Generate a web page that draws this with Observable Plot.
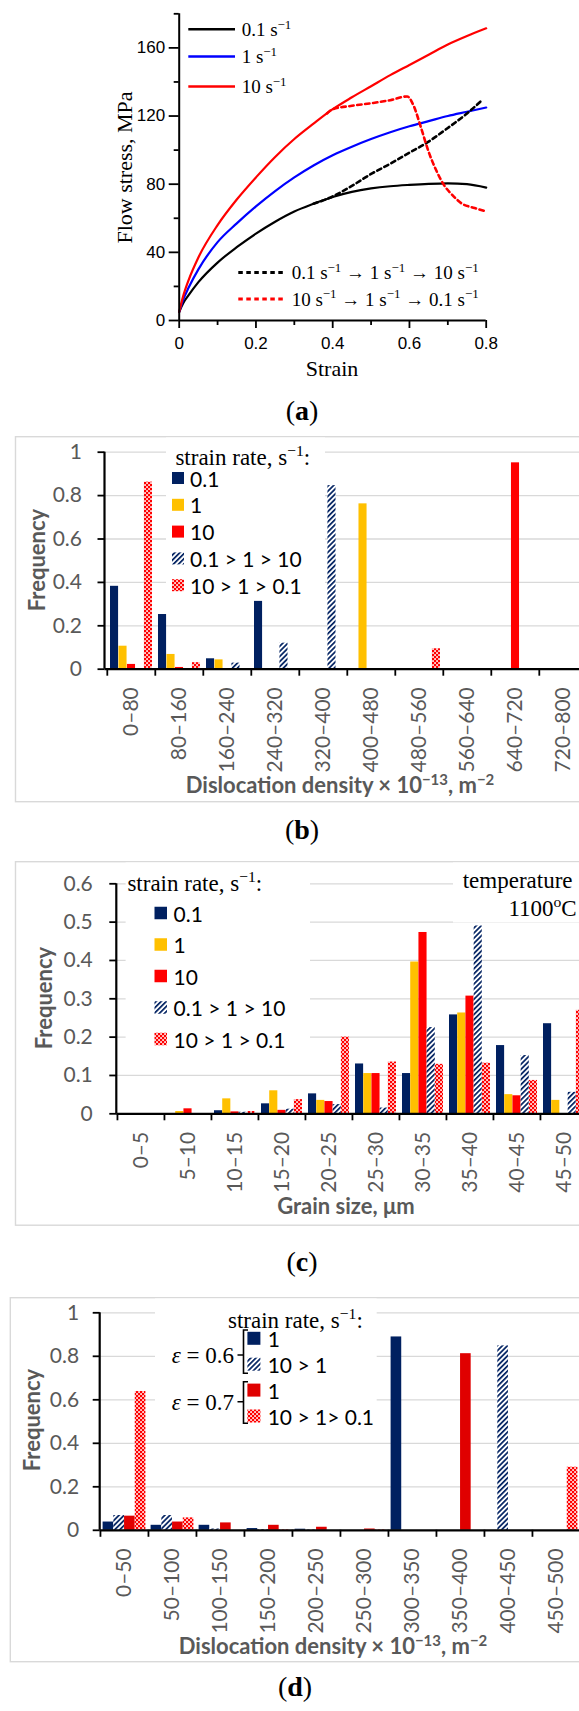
<!DOCTYPE html>
<html>
<head>
<meta charset="utf-8">
<script src="https://cdn.jsdelivr.net/npm/d3@7"></script>
<script src="https://cdn.jsdelivr.net/npm/@observablehq/plot@0.6"></script>
<style>
html, body { margin: 0; padding: 0; background: #fff; overflow: hidden; }
#root { position: relative; width: 579px; height: 1711px; overflow: hidden; background: #fff; }
.cap { position: absolute; font-family: "Liberation Serif", serif; font-size: 28px; line-height: 1; transform: translate(-50%, -50%); white-space: nowrap; color: #000; }
</style>
</head>
<body>
<svg width="0" height="0" style="position:absolute">
  <defs>
    <pattern id="hatchNavy" patternUnits="userSpaceOnUse" width="3.6" height="3.6" patternTransform="rotate(45)">
      <rect width="3.6" height="3.6" fill="#ffffff"/>
      <rect width="1.7" height="3.6" fill="#002060"/>
    </pattern>
    <pattern id="checkRed" patternUnits="userSpaceOnUse" width="4" height="4">
      <rect width="4" height="4" fill="#ff0000"/>
      <rect x="0.2" y="0.2" width="1.7" height="1.7" fill="#ffffff"/>
      <rect x="2.2" y="2.2" width="1.7" height="1.7" fill="#ffffff"/>
    </pattern>
  </defs>
</svg>
<div id="root"></div>
<script>
// ------------------------------------------------------------------ data
// (a) flow curves
const strainGrid   = [0, 0.01, 0.025, 0.05, 0.1, 0.15, 0.2, 0.25, 0.3, 0.35, 0.4, 0.45, 0.5, 0.55, 0.6, 0.65, 0.7, 0.75, 0.8];
const stressRate01 = [5, 10, 15, 22.5, 34, 43, 51, 58, 64, 68.5, 72.5, 75.5, 77.5, 78.8, 79.6, 80.2, 80.5, 80, 78];
const stressRate1  = [5, 12, 19.5, 30, 46, 57, 67, 76, 84, 91, 97, 102, 106.5, 110.5, 114, 117, 120, 122.5, 125];
const stressRate10 = [5, 14, 24, 37, 56, 71, 84, 96, 106.5, 115.5, 124, 131, 137.5, 144, 150, 156, 162, 167, 171.5];
const strainUp     = [0.35, 0.4, 0.45, 0.5, 0.55, 0.6, 0.65, 0.7, 0.75, 0.79];
const stressUp     = [68.5, 72.8, 79, 86, 92, 98.5, 105, 113, 121.5, 129.5];
const strainDown   = [0.385, 0.4, 0.45, 0.5, 0.55, 0.594, 0.611, 0.629, 0.65, 0.67, 0.69, 0.712, 0.736, 0.77, 0.8];
const stressDown   = [121.5, 124, 126, 127.5, 129.3, 131.5, 126, 114, 99, 88, 79.5, 73.6, 68.7, 66, 64];

// (b) dislocation density distribution
const densityBinsB = ["0–80", "80–160", "160–240", "240–320", "320–400", "400–480", "480–560", "560–640", "640–720", "720–800"];
const freqB_rate01 = [0.382, 0.252, 0.048, 0.313, 0, 0, 0, 0, 0, 0];
const freqB_rate1  = [0.106, 0.068, 0.043, 0.003, 0, 0.762, 0, 0, 0, 0];
const freqB_rate10 = [0.022, 0.008, 0.003, 0, 0, 0, 0, 0, 0.951, 0];
const freqB_up     = [0, 0, 0.028, 0.12, 0.846, 0, 0, 0, 0, 0];
const freqB_down   = [0.862, 0.03, 0.003, 0, 0, 0, 0.094, 0, 0, 0];

// (c) grain size distribution
const grainBins    = ["0–5", "5–10", "10–15", "15–20", "20–25", "25–30", "30–35", "35–40", "40–45", "45–50"];
const freqC_rate01 = [0, 0, 0.008, 0.026, 0.052, 0.13, 0.105, 0.258, 0.178, 0.235];
const freqC_rate1  = [0, 0.006, 0.039, 0.06, 0.035, 0.105, 0.396, 0.263, 0.05, 0.035];
const freqC_rate10 = [0, 0.013, 0.005, 0.009, 0.032, 0.105, 0.473, 0.307, 0.047, 0];
const freqC_up     = [0, 0, 0.004, 0.012, 0.024, 0.015, 0.225, 0.49, 0.152, 0.056];
const freqC_down   = [0, 0, 0.006, 0.037, 0.2, 0.135, 0.129, 0.132, 0.087, 0.27];

// (d) dislocation density after partial straining
const densityBinsD   = ["0–50", "50–100", "100–150", "150–200", "200–250", "250–300", "300–350", "350–400", "400–450", "450–500"];
const freqD_e06_1    = [0.038, 0.023, 0.023, 0.008, 0.005, 0, 0.889, 0, 0, 0];
const freqD_e06_10_1 = [0.068, 0.068, 0.006, 0.003, 0.002, 0, 0, 0, 0.848, 0];
const freqD_e07_1    = [0.065, 0.038, 0.034, 0.023, 0.014, 0.006, 0, 0.812, 0, 0];
const freqD_e07_down = [0.638, 0.057, 0, 0.002, 0, 0.002, 0, 0, 0, 0.29];

const freqTicks1  = [0, 0.2, 0.4, 0.6, 0.8, 1];
const freqTicks06 = [0, 0.1, 0.2, 0.3, 0.4, 0.5, 0.6];

// ------------------------------------------------------------------ helpers
const W = 579;
const NAVY = "#002060", YELLOW = "#ffc000", RED = "#ff0000", DRED = "#e00000";
const SERIF = "'Liberation Serif', 'Times New Roman', serif";
const SANS = "Lato, 'Open Sans', sans-serif";
const root = document.getElementById("root");

function place(el, top) {
  el.style.position = "absolute";
  el.style.left = "0px";
  el.style.top = top + "px";
  root.appendChild(el);
}
function caption(letter, x, y) {
  const d = document.createElement("div");
  d.className = "cap";
  d.style.left = x + "px";
  d.style.top = y + "px";
  d.innerHTML = "(<b>" + letter + "</b>)";
  root.appendChild(d);
}
// text with superscript parts: parts = [[str, isSup], ...]
function rich(g, x, y, parts, attrs) {
  const fs = attrs["font-size"];
  const t = g.append("text").attr("x", x).attr("y", y).attr("text-anchor", "start");
  for (const k in attrs) t.attr(k, attrs[k]);
  let shifted = false;
  for (const [s, sup] of parts) {
    const ts = t.append("tspan").text(s);
    if (sup && !shifted) { ts.attr("dy", -0.38 * fs).attr("font-size", 0.68 * fs); shifted = true; }
    else if (sup) { ts.attr("font-size", 0.68 * fs); }
    else if (!sup && shifted) { ts.attr("dy", 0.38 * fs); shifted = false; }
  }
  return t;
}
const rows2 = (xs, ys, kx, ky) => xs.map((x, i) => ({[kx]: x, [ky]: ys[i]}));

// ------------------------------------------------------------------ panel (a)
{
  const lineOpts = {x: "strain", y: "stress", curve: "monotone-x"};
  const svg = Plot.plot({
    width: W, height: 400,
    marginLeft: 178.7, marginRight: W - 485.7, marginTop: 13.3, marginBottom: 80,
    style: {fontFamily: "'Liberation Sans', Arial, sans-serif", background: "transparent", overflow: "visible"},
    x: {domain: [0, 0.8], range: [178.7, 485.7]},
    y: {domain: [0, 180], range: [320, 13.3]},
    marks: [
      Plot.line(rows2(strainGrid, stressRate01, "strain", "stress"), {...lineOpts, stroke: "#000", strokeWidth: 2.2}),
      Plot.line(rows2(strainGrid, stressRate1, "strain", "stress"), {...lineOpts, stroke: "#0000ff", strokeWidth: 2.2}),
      Plot.line(rows2(strainGrid, stressRate10, "strain", "stress"), {...lineOpts, stroke: "#ff0000", strokeWidth: 2.2}),
      Plot.line(rows2(strainUp, stressUp, "strain", "stress"), {...lineOpts, stroke: "#000", strokeWidth: 2.6, strokeDasharray: "4.5,3.5"}),
      Plot.line(rows2(strainDown, stressDown, "strain", "stress"), {...lineOpts, stroke: "#ff0000", strokeWidth: 2.6, strokeDasharray: "4.5,3.5"}),
      Plot.ruleX([0], {y1: 0, y2: 180, stroke: "#000", strokeWidth: 2}),
      Plot.ruleY([0], {x1: 0, x2: 0.8, stroke: "#000", strokeWidth: 2}),
      Plot.axisY({ticks: [0, 40, 80, 120, 160], tickSize: 10, tickPadding: 4, fontSize: 17, stroke: "#000", fill: "#000", strokeWidth: 1.8, label: null}),
      Plot.axisY({ticks: [20, 60, 100, 140, 180], tickSize: 5, fill: "none", stroke: "#000", strokeWidth: 1.8, label: null}),
      Plot.axisX({ticks: [0, 0.2, 0.4, 0.6, 0.8], tickSize: 8, tickPadding: 8, fontSize: 17, tickFormat: d => d === 0 ? "0" : d.toFixed(1), stroke: "#000", fill: "#000", strokeWidth: 1.8, label: null}),
      Plot.axisX({ticks: [0.1, 0.3, 0.5, 0.7], tickSize: 5, fill: "none", stroke: "#000", strokeWidth: 1.8, label: null})
    ]
  });
  const g = d3.select(svg).append("g").attr("font-family", SERIF).attr("fill", "#000").attr("text-anchor", "start");
  g.append("text").attr("transform", "translate(124,167.5) rotate(-90)").attr("text-anchor", "middle")
    .attr("dominant-baseline", "central").attr("font-size", 22).text("Flow stress, MPa");
  g.append("text").attr("x", 332).attr("y", 376).attr("text-anchor", "middle").attr("font-size", 22).text("Strain");
  const top = [
    {y: 29.3, color: "#000", parts: [["0.1 s", false], ["−1", true]]},
    {y: 56.5, color: "#0000ff", parts: [["1 s", false], ["−1", true]]},
    {y: 86.5, color: "#ff0000", parts: [["10 s", false], ["−1", true]]}
  ];
  for (const e of top) {
    g.append("line").attr("x1", 188.3).attr("x2", 235).attr("y1", e.y).attr("y2", e.y).attr("stroke", e.color).attr("stroke-width", 2.6);
    rich(g, 241.7, e.y + 6.5, e.parts, {"font-size": 19});
  }
  const bottom = [
    {y: 272.5, color: "#000", parts: [["0.1 s", false], ["−1", true], [" → 1 s", false], ["−1", true], [" → 10 s", false], ["−1", true]]},
    {y: 299, color: "#ff0000", parts: [["10 s", false], ["−1", true], [" → 1 s", false], ["−1", true], [" → 0.1 s", false], ["−1", true]]}
  ];
  for (const e of bottom) {
    g.append("line").attr("x1", 238.3).attr("x2", 283.3).attr("y1", e.y).attr("y2", e.y).attr("stroke", e.color)
      .attr("stroke-width", 2.8).attr("stroke-dasharray", "4.5,3.5");
    rich(g, 291.7, e.y + 6.5, e.parts, {"font-size": 19});
  }
  place(svg, 0);
}
caption("a", 302, 411);

// ------------------------------------------------------------------ bar panels
function barPanel(o) {
  const bw = (o.xRange[1] - o.xRange[0]) / o.cats.length;
  const n = o.series.length;
  const w = (bw - 2 * o.pad) / n;
  const marks = [Plot.ruleY(o.yTicks.filter(v => v > 0), {stroke: "#d9d9d9", strokeWidth: 1.3})];
  o.series.forEach((s, j) => {
    marks.push(Plot.barY(rows2(o.cats, s.values, "bin", "freq"), {
      x: "bin", y: "freq", fill: s.fill,
      insetLeft: o.pad + j * w, insetRight: o.pad + (n - 1 - j) * w
    }));
  });
  marks.push(
    Plot.ruleY([0], {stroke: "#000", strokeWidth: 2.2}),
    Plot.axisY({ticks: o.yTicks, tickSize: 7, tickPadding: o.yPad, tickFormat: d => String(+d.toFixed(1)),
      fontSize: 21, fill: "#595959", stroke: "#000", strokeWidth: 1.8, label: null}),
    Plot.axisX({tickSize: 7, dx: -bw / 2, fill: "none", stroke: "#000", strokeWidth: 1.8, label: null}),
    Plot.axisX({tickSize: 0, tickRotate: -90, tickPadding: 18, fontSize: 21, fill: "#595959", label: null})
  );
  const svg = Plot.plot({
    width: W, height: o.height,
    marginLeft: o.xRange[0], marginRight: 0, marginTop: o.yRange[1], marginBottom: o.height - o.yRange[0],
    style: {fontFamily: SANS, background: "transparent", overflow: "hidden"},
    x: {domain: o.cats, range: o.xRange, padding: 0},
    y: {domain: o.yDomain, range: o.yRange},
    marks
  });
  const s = d3.select(svg);
  s.insert("rect", ":first-child").attr("x", o.frameX).attr("y", 0.7).attr("width", 700).attr("height", o.frameH)
    .attr("fill", "none").attr("stroke", "#d9d9d9").attr("stroke-width", 1.4);
  s.append("line").attr("x1", o.xRange[0]).attr("x2", o.xRange[0]).attr("y1", o.yRange[0]).attr("y2", o.yRange[1])
    .attr("stroke", "#000").attr("stroke-width", 2.2);
  rich(s, o.titleX, o.titleY, o.titleParts, {"font-size": 22, "font-weight": 700, fill: "#595959", "text-anchor": "middle", "font-family": SANS});
  s.append("text").attr("transform", `translate(${o.freqX},${o.freqY}) rotate(-90)`).attr("text-anchor", "middle")
    .attr("dominant-baseline", "central").attr("font-size", 22).attr("font-weight", 700).attr("fill", "#595959")
    .attr("font-family", SANS).text("Frequency");
  const L = o.legend;
  const g = s.append("g").attr("text-anchor", "start");
  g.append("rect").attr("x", L.box[0]).attr("y", L.box[1]).attr("width", L.box[2]).attr("height", L.box[3]).attr("fill", "#fff");
  rich(g, L.titleX, L.titleY, [["strain rate, s", false], ["−1", true], [":", false]], {"font-size": 23, "font-family": SERIF, fill: "#000"});
  L.items.forEach((it, i) => {
    const cy = L.y0 + i * L.dy;
    g.append("rect").attr("x", L.swX).attr("y", cy - L.sw / 2).attr("width", L.sw).attr("height", L.sw).attr("fill", it.fill);
    g.append("text").attr("x", L.textX).attr("y", cy).attr("dominant-baseline", "central").attr("font-size", 21)
      .attr("text-anchor", "start").attr("font-family", SANS).attr("fill", "#000").text(it.label);
  });
  if (o.extra) o.extra(s);
  place(svg, o.top);
}

const densityTitle = [["Dislocation density × 10", false], ["−13", true], [", m", false], ["−2", true]];

// (b)
barPanel({
  top: 436, height: 367, frameX: 15.5, frameH: 365,
  cats: densityBinsB, xRange: [104.5, 588.5], pad: 3,
  yDomain: [0, 1], yRange: [232.7, 15.7], yTicks: freqTicks1, yPad: 16,
  series: [
    {values: freqB_rate01, fill: NAVY}, {values: freqB_rate1, fill: YELLOW}, {values: freqB_rate10, fill: RED},
    {values: freqB_up, fill: "url(#hatchNavy)"}, {values: freqB_down, fill: "url(#checkRed)"}
  ],
  titleX: 340, titleY: 357, titleParts: densityTitle, freqX: 36, freqY: 124,
  legend: {
    box: [166, 1.5, 159, 163], titleX: 175.4, titleY: 29,
    swX: 172, sw: 12, textX: 190, y0: 42, dy: 26.8,
    items: [
      {fill: NAVY, label: "0.1"}, {fill: YELLOW, label: "1"}, {fill: RED, label: "10"},
      {fill: "url(#hatchNavy)", label: "0.1 > 1 > 10"}, {fill: "url(#checkRed)", label: "10 > 1 > 0.1"}
    ]
  }
});
caption("b", 302, 830);

// (c)
barPanel({
  top: 861, height: 366, frameX: 15.5, frameH: 363.5,
  cats: grainBins, xRange: [116.3, 587.3], pad: 3,
  yDomain: [0, 0.6], yRange: [252.3, 22.3], yTicks: freqTicks06, yPad: 17,
  series: [
    {values: freqC_rate01, fill: NAVY}, {values: freqC_rate1, fill: YELLOW}, {values: freqC_rate10, fill: RED},
    {values: freqC_up, fill: "url(#hatchNavy)"}, {values: freqC_down, fill: "url(#checkRed)"}
  ],
  titleX: 346, titleY: 353, titleParts: [["Grain size, μm", false]], freqX: 43, freqY: 137,
  legend: {
    box: [125.6, 1.5, 184.4, 187], titleX: 127.4, titleY: 30,
    swX: 154.5, sw: 12.5, textX: 173.6, y0: 52, dy: 31.5,
    items: [
      {fill: NAVY, label: "0.1"}, {fill: YELLOW, label: "1"}, {fill: RED, label: "10"},
      {fill: "url(#hatchNavy)", label: "0.1 > 1 > 10"}, {fill: "url(#checkRed)", label: "10 > 1 > 0.1"}
    ]
  },
  extra: s => {
    const g = s.append("g").attr("font-family", SERIF).attr("font-size", 23).attr("fill", "#000").attr("text-anchor", "start");
    g.append("rect").attr("x", 453).attr("y", 1.5).attr("width", 130).attr("height", 60).attr("fill", "#fff");
    g.append("text").attr("x", 462.7).attr("y", 27).text("temperature");
    rich(g, 576.7, 55, [["1100", false], ["o", true], ["C", false]], {"font-size": 23, "text-anchor": "end"});
  }
});
caption("c", 302, 1262);

// (d)
barPanel({
  top: 1297, height: 366, frameX: 10.3, frameH: 364,
  cats: densityBinsD, xRange: [99.7, 580.7], pad: 2.6,
  yDomain: [0, 1], yRange: [232.8, 15.3], yTicks: freqTicks1, yPad: 14,
  series: [
    {values: freqD_e06_1, fill: NAVY}, {values: freqD_e06_10_1, fill: "url(#hatchNavy)"},
    {values: freqD_e07_1, fill: DRED}, {values: freqD_e07_down, fill: "url(#checkRed)"}
  ],
  titleX: 333, titleY: 357, titleParts: densityTitle, freqX: 31.5, freqY: 123,
  legend: {
    box: [155, 1.5, 221.7, 131], titleX: 228, titleY: 31,
    swX: 247.4, sw: 13, textX: 267.7, y0: 41.3, dy: 25.9,
    items: [
      {fill: NAVY, label: "1"}, {fill: "url(#hatchNavy)", label: "10 > 1"},
      {fill: DRED, label: "1"}, {fill: "url(#checkRed)", label: "10 > 1> 0.1"}
    ]
  },
  extra: s => {
    const g = s.append("g").attr("font-family", SERIF).attr("font-size", 23).attr("fill", "#000");
    const braces = [[33, 76.3, 58, "0.6"], [84.7, 126.3, 104.7, "0.7"]];
    for (const [y1, y2, ym, val] of braces) {
      g.append("path").attr("d", `M248,${y1}H243.5V${y2}H248M243.5,${ym}H237.5`)
        .attr("fill", "none").attr("stroke", "#000").attr("stroke-width", 1.6);
      const t = g.append("text").attr("x", 234).attr("y", ym + 8).attr("text-anchor", "end");
      t.append("tspan").attr("font-style", "italic").text("ε");
      t.append("tspan").text(" = " + val);
    }
  }
});
caption("d", 295, 1687);
</script>
</body>
</html>
